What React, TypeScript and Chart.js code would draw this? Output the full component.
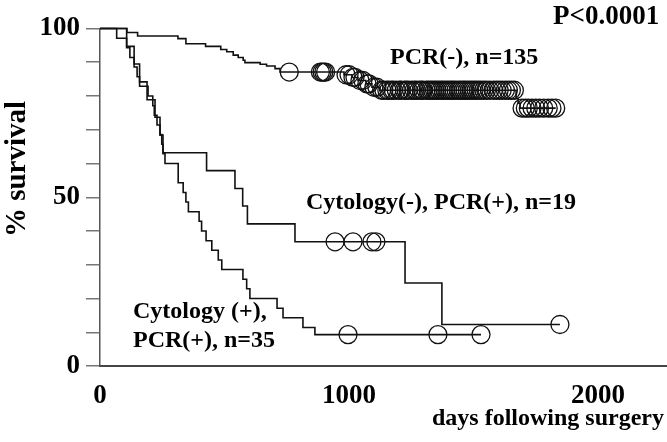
import React, { useEffect, useRef } from "react";
import { Chart, registerables } from "chart.js";

Chart.register(...registerables);

// ---------- axes ----------
const xTickValues = [0, 1000, 2000];
const xMax = 2277;
const yLabelValues = [0, 50, 100];

// ---------- PCR(-), n=135 (Kaplan-Meier steps) ----------
const pcrNegDays = [0, 108, 151, 313, 345, 424, 485, 509, 535, 555, 575, 582, 643, 669, 703, 723, 980, 1012, 1036, 1068, 1092, 1124, 1671, 1679, 1687, 1830];
const pcrNegSurv = [100, 98.8, 97.8, 97.0, 95.5, 94.7, 93.8, 93.1, 92.1, 91.4, 90.6, 89.9, 89.4, 88.9, 88.1, 87.1, 86.3, 85.5, 84.6, 83.6, 82.6, 81.7, 79.3, 77.9, 76.4, 76.4];
const pcrNegCensored = [760, 885, 892, 899, 906, 988, 1000, 1016, 1024, 1044, 1056, 1072, 1080, 1100, 1112,
  1131, 1140, 1152, 1160, 1171, 1178, 1190, 1203, 1209, 1222, 1230, 1238, 1251, 1262, 1270, 1281, 1290, 1297, 1310, 1318,
  1327, 1335, 1344, 1352, 1361, 1370, 1378, 1387, 1396, 1405, 1413, 1421, 1430, 1440, 1449, 1458, 1466, 1475, 1484, 1493,
  1502, 1511, 1520, 1530, 1541, 1552, 1565, 1580, 1592, 1603, 1615, 1628, 1640, 1652, 1664,
  1695, 1708, 1720, 1735, 1750, 1765, 1782, 1800, 1815, 1830];

// ---------- Cytology(-), PCR(+), n=19 ----------
const cytoNegDays = [0, 107, 137, 159, 189, 221, 241, 253, 428, 542, 573, 592, 783, 1225, 1373, 1847];
const cytoNegSurv = [100, 94.7, 89.5, 84.2, 78.9, 73.7, 68.4, 63.2, 57.9, 52.6, 47.4, 42.1, 36.8, 24.6, 12.3, 12.3];
const cytoNegCensored = [944, 1016, 1092, 1108, 1847];

// ---------- Cytology (+), PCR(+), n=35 ----------
const cytoPosDays = [0, 67, 107, 120, 137, 149, 159, 193, 212, 218, 229, 241, 248, 253, 261, 314, 334, 345, 355, 398, 408, 426, 449, 475, 489, 574, 589, 602, 711, 735, 815, 863, 1530];
const cytoPosSurv = [100, 97.1, 94.3, 91.4, 88.6, 85.7, 82.9, 80.0, 77.1, 74.3, 71.4, 68.6, 65.7, 62.9, 60.0, 54.3, 51.4, 48.6, 45.7, 42.9, 40.0, 37.1, 34.3, 31.4, 28.6, 25.7, 22.9, 20.0, 17.1, 14.3, 11.4, 9.3, 9.3];
const cytoPosCensored = [996, 1357, 1530];

// ---------- annotation texts ----------
const pValueText = "P<0.0001";
const pcrNegLabel = "PCR(-), n=135";
const cytoNegLabel = "Cytology(-), PCR(+), n=19";
const cytoPosLabel1 = "Cytology (+),";
const cytoPosLabel2 = "PCR(+), n=35";
const yTitle = "% survival";
const xTitle = "days following surgery";

const SERIF = "'Liberation Serif', 'Times New Roman', Times, serif";

function survAt(days: number[], surv: number[], t: number): number {
  let v = surv[0];
  for (let i = 0; i < days.length; i++) {
    if (days[i] <= t) v = surv[i];
  }
  return v;
}

function stepData(days: number[], surv: number[]) {
  return days.map((d, i) => ({ x: d, y: surv[i] }));
}

function censorData(cens: number[], days: number[], surv: number[]) {
  return cens.map((c) => ({ x: c, y: survAt(days, surv, c) }));
}

const lineDs = (data: any[]) => ({
  type: "line" as const,
  data,
  stepped: "before" as const,
  borderColor: "#111",
  borderWidth: 1.6,
  pointRadius: 0,
  fill: false,
  clip: false as any,
});

const censorDs = (data: any[]) => ({
  type: "line" as const,
  data,
  showLine: false,
  pointStyle: "circle" as const,
  pointRadius: 9,
  pointHoverRadius: 9,
  pointBorderWidth: 1.3,
  pointBorderColor: "#111",
  pointBackgroundColor: "rgba(0,0,0,0)",
  clip: false as any,
});

const textPlugin = {
  id: "kmText",
  afterDraw(chart: any) {
    const ctx = chart.ctx as CanvasRenderingContext2D;
    ctx.save();
    ctx.fillStyle = "#000";
    ctx.textAlign = "left";
    ctx.textBaseline = "alphabetic";
    ctx.font = `bold 27px ${SERIF}`;
    ctx.fillText(pValueText, 553, 24);
    ctx.font = `bold 24px ${SERIF}`;
    ctx.fillText(pcrNegLabel, 390, 64);
    ctx.fillText(cytoNegLabel, 306, 209);
    ctx.fillText(cytoPosLabel1, 133, 318);
    ctx.fillText(cytoPosLabel2, 133, 347);
    // x axis title
    ctx.textAlign = "right";
    ctx.font = `bold 24px ${SERIF}`;
    ctx.fillText(xTitle, 664, 425);
    // y axis title
    ctx.translate(18, 169);
    ctx.rotate(-Math.PI / 2);
    ctx.textAlign = "center";
    ctx.textBaseline = "middle";
    ctx.font = `bold 29px ${SERIF}`;
    ctx.fillText(yTitle, 0, 0);
    ctx.restore();
  },
};

export default function App() {
  const ref = useRef<HTMLCanvasElement | null>(null);

  useEffect(() => {
    if (!ref.current) return;
    const chart = new Chart(ref.current, {
      type: "line",
      data: {
        datasets: [
          lineDs(stepData(pcrNegDays, pcrNegSurv)),
          lineDs(stepData(cytoNegDays, cytoNegSurv)),
          lineDs(stepData(cytoPosDays, cytoPosSurv)),
          censorDs(censorData(pcrNegCensored, pcrNegDays, pcrNegSurv)),
          censorDs(censorData(cytoNegCensored, cytoNegDays, cytoNegSurv)),
          censorDs(censorData(cytoPosCensored, cytoPosDays, cytoPosSurv)),
        ] as any,
      },
      options: {
        responsive: false,
        animation: false,
        events: [],
        layout: { autoPadding: false, padding: { top: 28.5, right: 0, left: 0, bottom: 0 } },
        plugins: { legend: { display: false }, tooltip: { enabled: false }, title: { display: false } },
        scales: {
          x: {
            type: "linear",
            min: 0,
            max: xMax,
            afterFit: (s: any) => {
              s.height = 76;
            },
            afterBuildTicks: (s: any) => {
              s.ticks = xTickValues.map((v) => ({ value: v }));
            },
            grid: { display: true, drawOnChartArea: false, drawTicks: false },
            border: { display: true, color: "#444", width: 2 },
            ticks: {
              color: "#000",
              padding: 14,
              maxRotation: 0,
              autoSkip: false,
              font: { family: SERIF, size: 27, weight: "bold" },
              callback: (v: any) => String(v),
            },
            title: { display: false },
          },
          y: {
            type: "linear",
            min: 0,
            max: 100,
            afterFit: (s: any) => {
              s.width = 100;
            },
            grid: { drawOnChartArea: false, drawTicks: true, tickLength: 14, color: "#777", lineWidth: 1.5 },
            border: { display: true, color: "#555", width: 1.5 },
            ticks: {
              stepSize: 10,
              color: "#000",
              padding: 6,
              autoSkip: false,
              font: { family: SERIF, size: 27, weight: "bold" },
              callback: (v: any) => (yLabelValues.includes(Number(v)) ? String(v) : ""),
            },
            title: { display: false },
          },
        },
      } as any,
      plugins: [textPlugin],
    });
    return () => chart.destroy();
  }, []);

  return (
    <div style={{ position: "fixed", left: 0, top: 0, width: 667, height: 442, background: "#fff" }}>
      <canvas ref={ref} width={667} height={442} style={{ display: "block" }} />
    </div>
  );
}
